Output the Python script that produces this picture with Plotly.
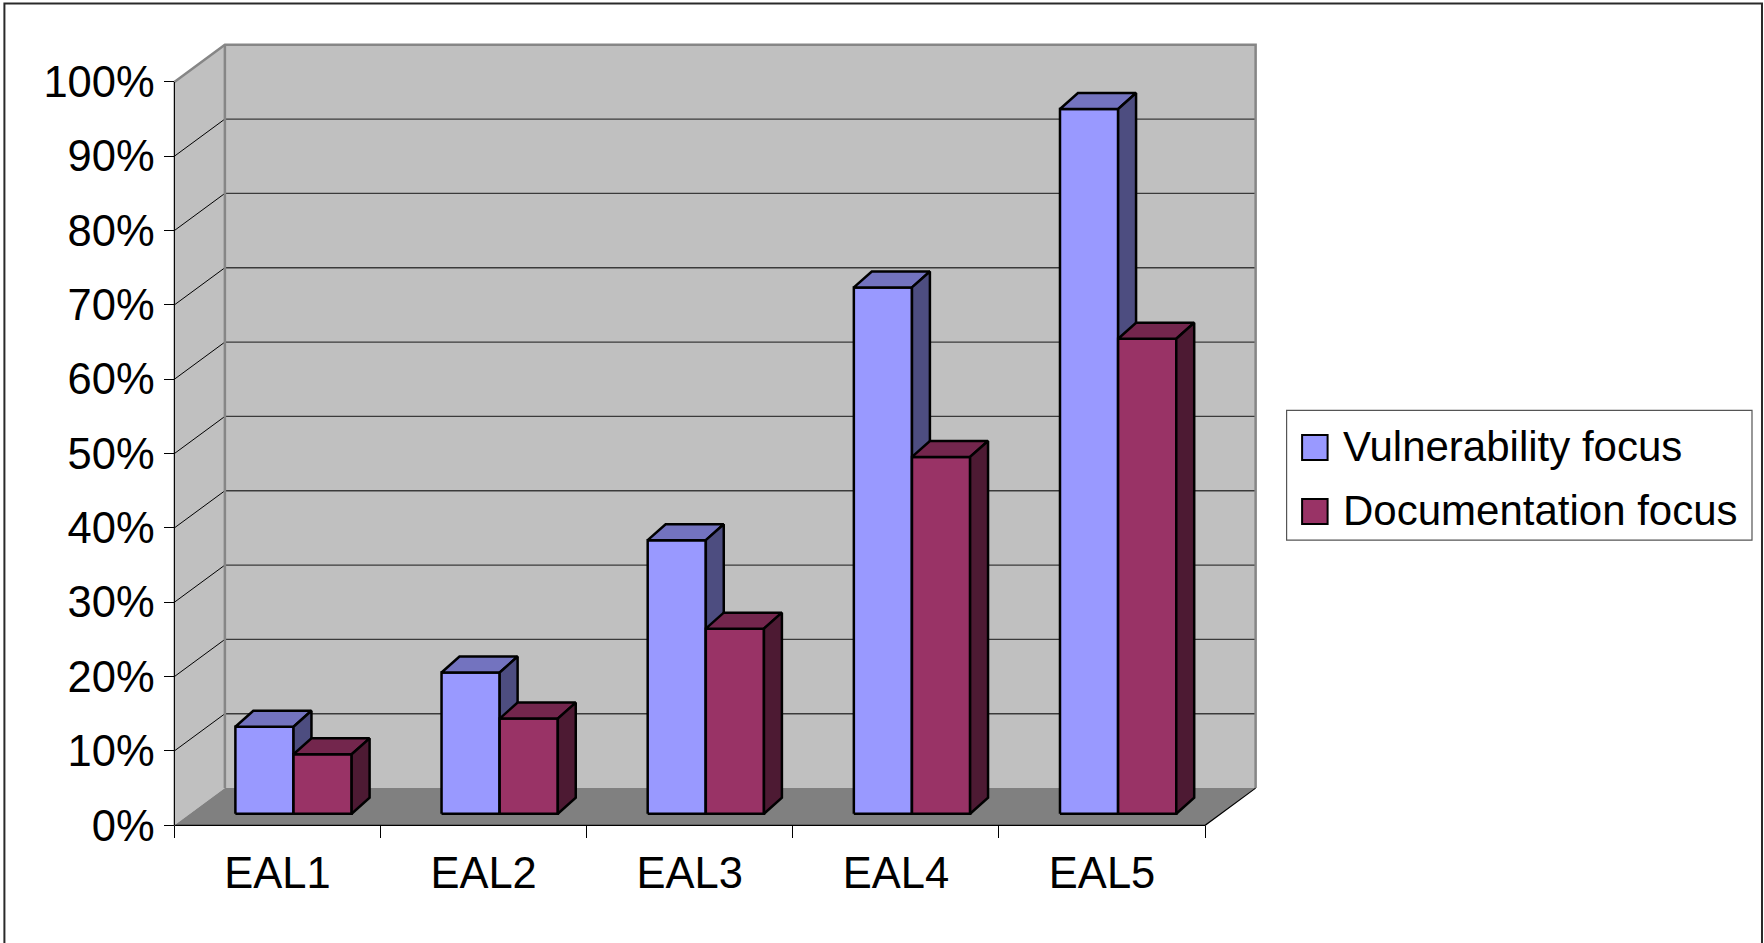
import plotly.graph_objects as go

# ---------------- data ----------------
categories = ["EAL1", "EAL2", "EAL3", "EAL4", "EAL5"]
series_names = ["Vulnerability focus", "Documentation focus"]
vulnerability = [11.7, 19.0, 36.8, 70.8, 94.8]
documentation = [8.0, 12.8, 24.9, 48.0, 63.9]
y_ticks = [0, 10, 20, 30, 40, 50, 60, 70, 80, 90, 100]
y_tick_labels = ["0%", "10%", "20%", "30%", "40%", "50%", "60%", "70%", "80%", "90%", "100%"]

# ---------------- style / geometry ----------------
FONT = "Liberation Sans, Arial, sans-serif"
W, H = 1764, 943
PXX, PXY = 206.2, 7.428          # pixels per x-unit / per percent
X0PX, Y0PX = 174.0, 825.0        # pixel position of (x=-0.5, y=0)
WX, WY = 0.245, 5.0              # depth offset of the back wall (data units)
BX0, BY0 = 0.078, 1.55           # offset of bar front faces
BDX, BDY = 0.087, 2.15           # bar depth
BW = 0.282                       # bar width
FACE = {
    0: ("#9999FF", "#7373BF", "#4D4D80"),
    1: ("#993366", "#73264D", "#4D1A33"),
}
WALL = "#C0C0C0"
FLOOR = "#808080"

n = len(categories)
xr = [-0.56, n - 0.5 + WX + 0.06]
yr = [-0.5, 105.5]
left = X0PX + (xr[0] + 0.5) * PXX
right = X0PX + (xr[1] + 0.5) * PXX
top = Y0PX - yr[1] * PXY
bottom = Y0PX - yr[0] * PXY
pw, ph = right - left, bottom - top


def px2paper(px, py):
    return (px - left) / pw, (bottom - py) / ph


fig = go.Figure()


def poly(xs, ys, fill, line_color=None, width=0):
    fig.add_trace(go.Scatter(
        x=list(xs) + [xs[0]], y=list(ys) + [ys[0]], mode="lines", fill="toself",
        fillcolor=fill, line=dict(color=line_color or fill, width=width),
        hoverinfo="skip", showlegend=False))


def lines(xs, ys, color, width):
    fig.add_trace(go.Scatter(x=xs, y=ys, mode="lines", line=dict(color=color, width=width),
                             hoverinfo="skip", showlegend=False))


xl, xrgt = -0.5, n - 0.5
ymax = y_ticks[-1]

# side wall, back wall, floor
poly([xl, xl, xl + WX, xl + WX], [0, ymax, ymax + WY, WY], WALL)
poly([xl + WX, xrgt + WX, xrgt + WX, xl + WX], [WY, WY, ymax + WY, ymax + WY], WALL)
poly([xl, xrgt, xrgt + WX, xl + WX], [0, 0, WY, WY], FLOOR)

# gridlines on the back wall and side wall
gx, gy, sx, sy = [], [], [], []
for v in y_ticks[1:-1]:
    gx += [xl + WX, xrgt + WX, None]
    gy += [v + WY, v + WY, None]
    sx += [xl, xl + WX, None]
    sy += [v, v + WY, None]
lines(gx, gy, "#3A3A3A", 1.3)
lines(sx, sy, "#000000", 1)

# wall edges (gray)
lines([xl + WX, xl + WX, None, xl, xl + WX, xrgt + WX, xrgt + WX],
      [WY, ymax + WY, None, ymax, ymax + WY, ymax + WY, WY], "#868686", 2.5)
# front axis and floor front/right edges (black)
lines([xl, xl, None, xl, xrgt, xrgt + WX], [ymax, 0, None, 0, 0, WY], "#000000", 1.2)

# bars
for i in range(n):
    for s, vals in enumerate([vulnerability, documentation]):
        v = vals[i]
        x0 = i + BX0 - BW + s * BW
        x1 = x0 + BW
        yb, yt = BY0, BY0 + v
        front, topc, side = FACE[s]
        poly([x0, x1, x1, x0], [yb, yb, yt, yt], front, "#000000", 2.5)
        poly([x0, x1, x1 + BDX, x0 + BDX], [yt, yt, yt + BDY, yt + BDY], topc, "#000000", 2.5)
        poly([x1, x1 + BDX, x1 + BDX, x1], [yb, yb + BDY, yt + BDY, yt], side, "#000000", 2.5)

# ---------------- manual legend ----------------
shapes = []
annotations = []
lx0, ly0 = px2paper(1286.5, 410.5)
lx1, ly1 = px2paper(1752, 540)
shapes.append(dict(type="rect", xref="paper", yref="paper", x0=lx0, y0=ly1, x1=lx1, y1=ly0,
                   line=dict(color="#555555", width=1.2), fillcolor="white", layer="above"))
for k, name in enumerate(series_names):
    cy = 447.5 + k * 64
    sx0, sy0 = px2paper(1302, cy - 12.5)
    sx1, sy1 = px2paper(1327.5, cy + 12.5)
    shapes.append(dict(type="rect", xref="paper", yref="paper", x0=sx0, y0=sy1, x1=sx1, y1=sy0,
                       line=dict(color="#000000", width=2), fillcolor=FACE[k][0], layer="above"))
    tx, ty = px2paper(1341, cy - 1)
    annotations.append(dict(xref="paper", yref="paper", x=tx, y=ty, xanchor="left", yanchor="middle",
                            text=name, showarrow=False, font=dict(family=FONT, size=42, color="black")))

# outer chart border
bx0, by0 = px2paper(4, 4)
bx1, by1 = px2paper(1762, 990)
shapes.append(dict(type="rect", xref="paper", yref="paper", x0=bx0, y0=by1, x1=bx1, y1=by0,
                   line=dict(color="#2A2A2A", width=2), fillcolor="rgba(0,0,0,0)", layer="above"))

fig.update_layout(
    width=W, height=H,
    margin=dict(l=left, r=W - right, t=top, b=H - bottom, pad=0),
    paper_bgcolor="white", plot_bgcolor="white",
    font=dict(family=FONT, size=43.5, color="black"),
    showlegend=False,
    shapes=shapes, annotations=annotations,
    xaxis=dict(range=xr, anchor="free", position=(0 - yr[0]) / (yr[1] - yr[0]),
               tickmode="array", tickvals=list(range(n)), ticktext=categories, ticks="",
               showgrid=False, zeroline=False, showline=False, fixedrange=True,
               tickfont=dict(family=FONT, size=43.5, color="black"), ticklabelstandoff=18,
               minor=dict(tickmode="array", tickvals=[k - 0.5 for k in range(n + 1)],
                          ticks="outside", ticklen=12, tickwidth=1.2, tickcolor="#000000",
                          showgrid=False)),
    yaxis=dict(range=yr, anchor="free", position=(xl - xr[0]) / (xr[1] - xr[0]),
               tickmode="array", tickvals=y_ticks, ticktext=y_tick_labels,
               ticks="outside", ticklen=10, tickwidth=1.2, tickcolor="#000000",
               showgrid=False, zeroline=False, showline=False, fixedrange=True,
               tickfont=dict(family=FONT, size=43.5, color="black"), ticklabelstandoff=1),
)

fig.write_html("out.html")
